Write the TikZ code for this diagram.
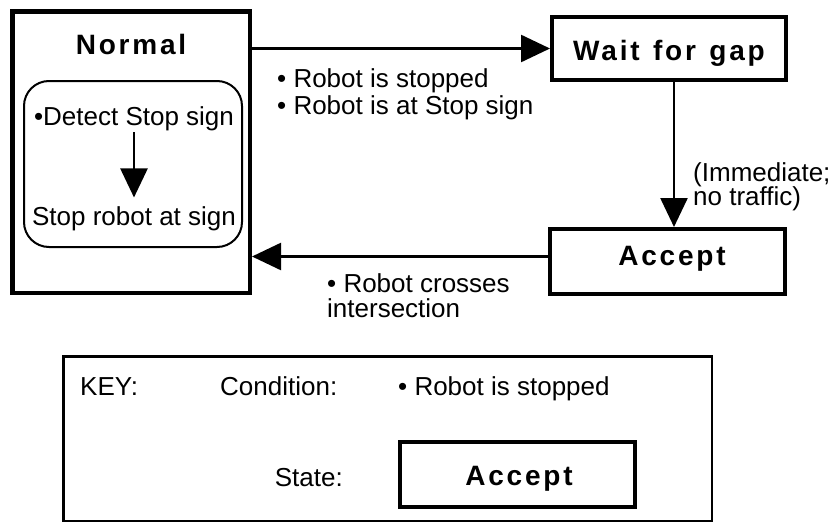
\documentclass[tikz,border=0pt]{standalone}
\usepackage{fontspec}
\setmainfont{Liberation Sans}
\newfontfamily\titlefont[LetterSpace=10]{Liberation Sans}
\usetikzlibrary{arrows.meta}
\begin{document}
\begin{tikzpicture}[x=1pt,y=-1pt,
  statebox/.style={draw, line width=4pt, inner sep=0pt},
  title/.style={font=\titlefont\bfseries\fontsize{28}{30}\selectfont, inner sep=0pt, anchor=base},
  txt/.style={font=\fontsize{26}{26}\selectfont, inner sep=0pt},
  lbl/.style={txt, align=left, anchor=base west},
  conn/.style={line width=2.5pt, -{Triangle[length=29pt,width=27pt]}}]
\useasboundingbox (0,0) rectangle (833,525);
% Normal state
\node[statebox, line width=4.5pt, minimum width=237.5pt, minimum height=281.5pt] (normal) at (131,152) {};
\node[title] (normaltitle) at (131,54) {Normal};
\node[draw, line width=2pt, rounded corners=25pt, minimum width=218pt, minimum height=166pt, inner sep=0pt] (inner) at (133,164) {};
\node[txt, anchor=base] (detect) at (134,125) {•Detect Stop sign};
\node[txt, anchor=base] (stoprobot) at (134,225) {Stop robot at sign};
\draw[conn, shorten >=8.5pt, shorten <=1.5pt] (detect.south) -- (stoprobot.north);
% Wait for gap
\node[statebox, minimum width=234pt, minimum height=63pt] (wait) at (669,48.5) {};
\node[title] (waittitle) at (669,60) {Wait\hspace{0.1em} for\hspace{0.1em} gap};
% Accept
\node[statebox, minimum width=235pt, minimum height=65pt] (accept) at (667.5,261.5) {};
\node[title] (accepttitle) at (672,265) {Accept};
% transitions
\draw[conn] (normal.east |- wait.west) -- (wait.west);
\draw[conn] ([xshift=5pt]wait.south) -- ([xshift=5pt]wait.south |- accept.north);
\draw[conn] ([yshift=5pt]accept.west) -- ([yshift=5pt]accept.west -| normal.east);
\node[lbl] (cond1) at (277,114) {• Robot is stopped\\[1pt]• Robot is at Stop sign};
\node[lbl] (cond2) at (693,205) {(Immediate;\\[-2pt]no traffic)};
\node[lbl] (cond3) at (327,317) {• Robot crosses\\[-1pt]intersection};
% Key
\node[draw, line width=2.5pt, minimum width=648.5pt, minimum height=164.5pt, inner sep=0pt] (key) at (387.5,438.5) {};
\node[txt, anchor=base west] (keylbl) at (80,395) {KEY:};
\node[txt, anchor=base west] (condlbl) at (220,395) {Condition:};
\node[txt, anchor=base west] (condex) at (398,395) {• Robot is stopped};
\node[txt, anchor=base east] (statelbl) at (343,486) {State:};
\node[statebox, minimum width=235pt, minimum height=65pt] (stateex) at (517.5,474.5) {};
\node[title] (stateextitle) at (519,485) {Accept};
\end{tikzpicture}
\end{document}
